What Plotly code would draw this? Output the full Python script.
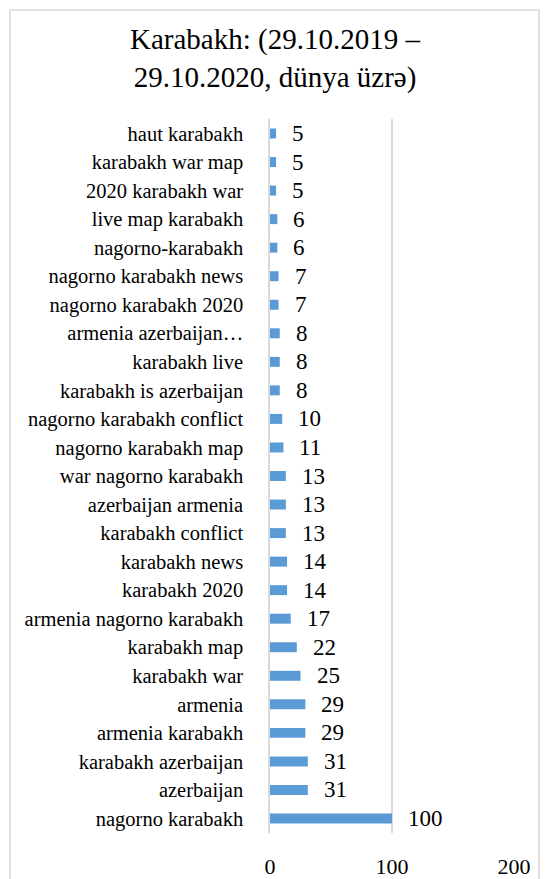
import plotly.graph_objects as go

categories = [
    "nagorno karabakh", "azerbaijan", "karabakh azerbaijan", "armenia karabakh",
    "armenia", "karabakh war", "karabakh map", "armenia nagorno karabakh",
    "karabakh 2020", "karabakh news", "karabakh conflict", "azerbaijan armenia",
    "war nagorno karabakh", "nagorno karabakh map", "nagorno karabakh conflict",
    "karabakh is azerbaijan", "karabakh live", "armenia azerbaijan…",
    "nagorno karabakh 2020", "nagorno karabakh news", "nagorno-karabakh",
    "live map karabakh", "2020 karabakh war", "karabakh war map", "haut karabakh",
]
values = [100, 31, 31, 29, 29, 25, 22, 17, 14, 14, 13, 13, 13, 11, 10,
          8, 8, 8, 7, 7, 6, 6, 5, 5, 5]
x_ticks = [0, 100, 200]
title_text = "Karabakh: (29.10.2019 –<br>29.10.2020, dünya üzrə)"

FONT = "Liberation Serif"
W, H = 550, 879
OFF = 8  # page body margin offset
# target plot area on screen: x 270..514, y 119..833
L, R = 270 - OFF, W + OFF - 514
T, B = 119 - OFF, H + OFF - 833

fig = go.Figure()
fig.add_trace(go.Bar(
    y=categories, x=values, orientation="h",
    marker=dict(color="#5B9BD5", line=dict(width=0)),
    hoverinfo="x+y",
))

for c, v in zip(categories, values):
    fig.add_annotation(
        x=v, y=c, xref="x", yref="y", text=str(v), showarrow=False,
        xanchor="left", yanchor="middle", xshift=14,
        font=dict(family=FONT, size=23, color="#000000"),
    )

pw = W - L - R
ph = H - T - B
fig.add_shape(
    type="rect", xref="paper", yref="paper",
    x0=(10 - OFF - L) / pw, x1=(539 - OFF - L) / pw,
    y0=(H - B - 900) / ph, y1=(H - B - (10 - OFF)) / ph,
    line=dict(color="#d9d9d9", width=1.5), fillcolor="rgba(0,0,0,0)", layer="above",
)

fig.update_layout(
    width=W, height=H,
    margin=dict(l=L, r=R, t=T, b=B, pad=0, autoexpand=False),
    paper_bgcolor="white", plot_bgcolor="white",
    bargap=0.65,
    showlegend=False,
    font=dict(family=FONT, color="#000000"),
    title=dict(
        text=title_text, x=(275 - OFF) / W, xref="container", xanchor="center",
        y=1 - 41 / H, yref="container", yanchor="top",
        font=dict(family=FONT, size=29, color="#000000"),
    ),
    xaxis=dict(
        range=[0, 200], tickvals=x_ticks, ticktext=[str(t) for t in x_ticks],
        showgrid=True, gridcolor="#d9d9d9", gridwidth=1.5,
        zeroline=False, showline=False, ticks="",
        tickfont=dict(family=FONT, size=22, color="#000000"),
        ticklabelstandoff=18, fixedrange=True, automargin=False,
    ),
    yaxis=dict(
        categoryorder="array", categoryarray=categories,
        showgrid=False, zeroline=False,
        showline=True, linecolor="#d9d9d9", linewidth=1.5, ticks="",
        tickfont=dict(family=FONT, size=20.5, color="#000000"),
        ticklabelstandoff=21, fixedrange=True, automargin=False,
    ),
)

fig.write_html("out.html")
